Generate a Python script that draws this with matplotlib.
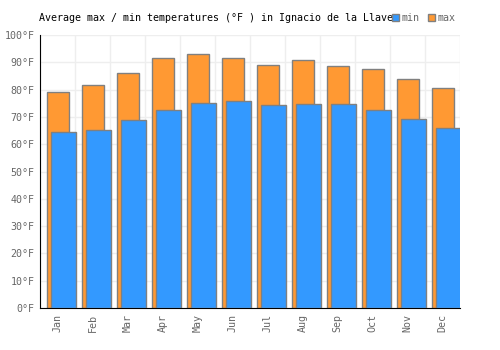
import matplotlib
matplotlib.use("Agg")
import matplotlib.pyplot as plt
import numpy as np

months = ["Jan", "Feb", "Mar", "Apr", "May", "Jun", "Jul", "Aug", "Sep", "Oct", "Nov", "Dec"]
max_temp = [79.0, 81.7, 85.9, 91.5, 92.9, 91.5, 88.9, 90.7, 88.6, 87.4, 83.7, 80.5]
min_temp = [64.5, 65.2, 68.7, 72.4, 75.1, 75.8, 74.4, 74.7, 74.7, 72.4, 69.2, 65.8]
yticks = [0, 10, 20, 30, 40, 50, 60, 70, 80, 90, 100]
ytick_labels = [f"{v}°F" for v in yticks]

font = "DejaVu Sans Mono"
fs = 7.2

fig = plt.figure(figsize=(5, 3.5), dpi=100)
ax = fig.add_axes([0.08, 0.12, 0.84, 0.78])

x = np.arange(len(months))
ax.bar(x + 0.015, max_temp, width=0.65, color="#FF9933", edgecolor="#808080", linewidth=1, zorder=2, label="max")
ax.bar(x + 0.165, min_temp, width=0.70, color="#3399FF", edgecolor="#808080", linewidth=1, zorder=3, label="min")

ax.set_xlim(-0.5, 11.5)
ax.set_ylim(0, 100)
ax.set_yticks(yticks)
ax.set_yticklabels(ytick_labels, family=font, fontsize=fs, color="#666666")
ax.set_xticks(x)
ax.set_xticklabels(months, family=font, fontsize=fs, color="#666666", rotation=90)
ax.set_xticks(np.arange(-0.5, 12.0, 1.0), minor=True)
ax.tick_params(axis="x", which="minor", length=0)
ax.tick_params(axis="both", which="major", length=0, pad=4)
ax.grid(True, axis="y", color="#eeeeee", linewidth=1, zorder=0)
ax.grid(True, axis="x", which="minor", color="#eeeeee", linewidth=1, zorder=0)
ax.set_axisbelow(True)
for s in ["top", "right"]:
    ax.spines[s].set_visible(False)
ax.spines["left"].set_color("black")
ax.spines["bottom"].set_color("black")

fig.text(0.078, 0.949, "Average max / min temperatures (°F ) in Ignacio de la Llave",
         family=font, fontsize=fs, color="black", ha="left", va="center")

h, l = ax.get_legend_handles_labels()
leg = fig.legend([h[1], h[0]], [l[1], l[0]], loc="center left", bbox_to_anchor=(0.784, 0.949),
                 ncol=2, frameon=False, handlelength=0.7, handleheight=0.7, handletextpad=0.3,
                 columnspacing=0.8, borderpad=0, borderaxespad=0,
                 prop={"family": font, "size": fs})
for t in leg.get_texts():
    t.set_color("#666666")

fig.savefig("out.png", dpi=100)
